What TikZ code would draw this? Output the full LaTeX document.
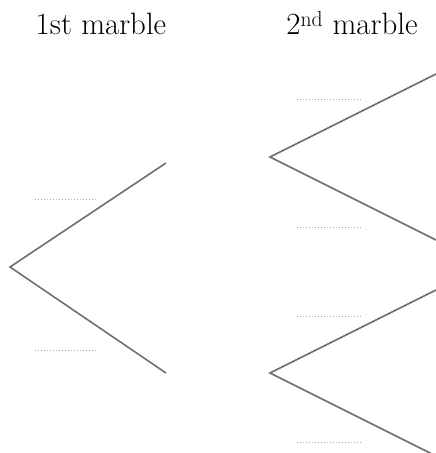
\documentclass[tikz,border=0pt]{standalone}
\usetikzlibrary{positioning}
\definecolor{TRLine}{HTML}{707070}
\definecolor{TRDots}{HTML}{A8A8A8}
\tikzset{
  branch/.style={TRLine,line width=1.6pt},
  blank/.style={TRDots,line width=1.0pt,dash pattern=on 1.2pt off 1.8pt},
  heading/.style={text=black,font=\fontsize{31}{36}\selectfont,inner sep=0pt,anchor=base},
}
\begin{document}
\begin{tikzpicture}[x=1bp,y=-1bp]
    \useasboundingbox (0,0) rectangle (436,453);
    \node[heading] (first) at (101,35) {1st marble};
    \node[heading] (second) at (352,35) {2\textsuperscript{nd} marble};

    % first marble
    \coordinate (root) at (10,267);
    \coordinate (a1) at (166,163);
    \coordinate (a2) at (166,373);
    \draw[branch] (a1) -- (root) -- (a2);

    % second marble
    \coordinate (b1) at (270,157);
    \coordinate (b2) at (270,373);
    \coordinate (b11) at (436,74);
    \coordinate (b12) at (436,240);
    \coordinate (b21) at (436,290);
    \coordinate (b22) at (436,456);
    \draw[branch] (b11) -- (b1) -- (b12);
    \draw[branch] (b21) -- (b2) -- (b22);

    % answer blanks
    \draw[blank] (35,199) -- +(60,0);
    \draw[blank] (35,350) -- +(60,0);
    \draw[blank] (297,100) -- +(65,0);
    \draw[blank] (297,227) -- +(65,0);
    \draw[blank] (297,316) -- +(65,0);
    \draw[blank] (297,442) -- +(65,0);
\end{tikzpicture}
\end{document}
